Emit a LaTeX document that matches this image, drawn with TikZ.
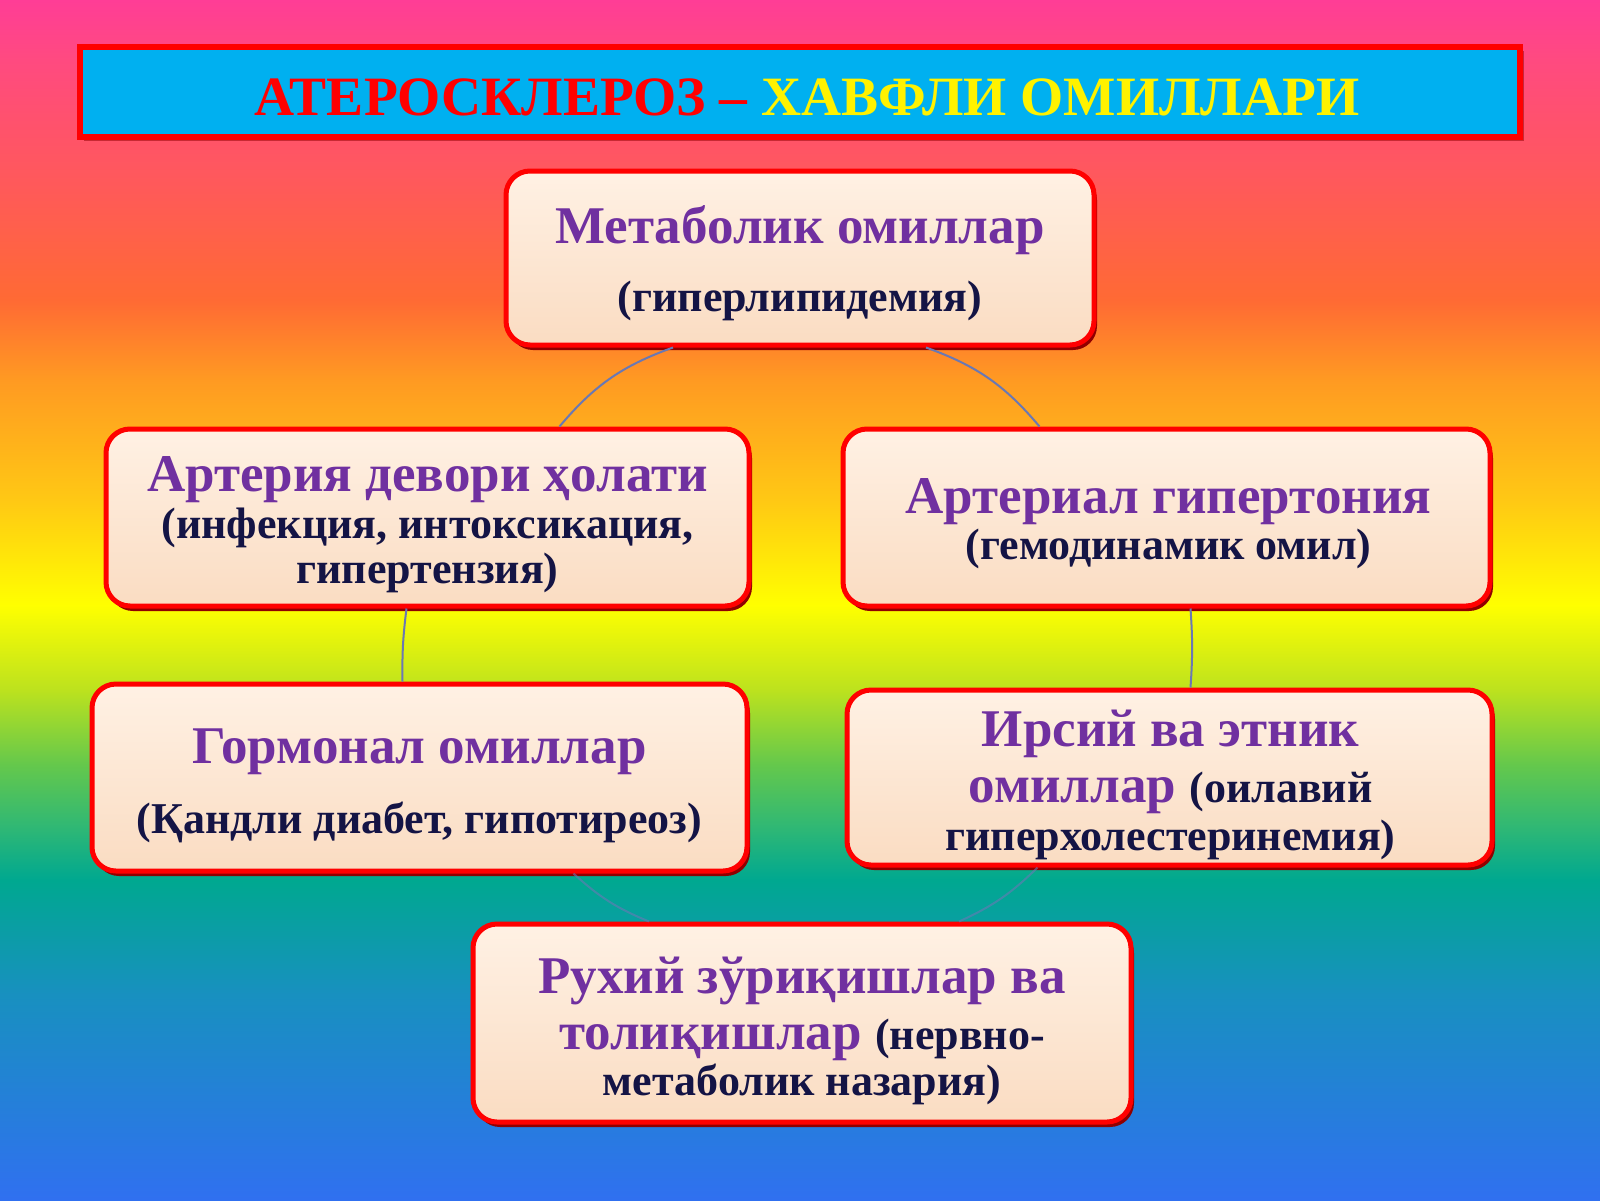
\documentclass[tikz,border=0pt]{standalone}
\usepackage{fontspec}
\setmainfont{Liberation Serif}
\usetikzlibrary{shadows,calc}
\definecolor{bgA}{HTML}{FF3D96}
\definecolor{bgB}{HTML}{FF4A80}
\definecolor{bgC}{HTML}{FF5A58}
\definecolor{bgD}{HTML}{FF6A34}
\definecolor{bgE}{HTML}{FF9A22}
\definecolor{bgF}{HTML}{FFC814}
\definecolor{bgG}{HTML}{FFFF00}
\definecolor{bgH}{HTML}{BCE21E}
\definecolor{bgI}{HTML}{64C84C}
\definecolor{bgJ}{HTML}{30B874}
\definecolor{bgK}{HTML}{00A890}
\definecolor{bgL}{HTML}{1890C0}
\definecolor{bgM}{HTML}{3070F0}
\definecolor{purp}{HTML}{7030A0}
\definecolor{navy}{HTML}{141445}
\definecolor{peachtop}{HTML}{FFF1E4}
\definecolor{peachbot}{HTML}{FADCC2}
\definecolor{shadowred}{HTML}{900000}
\definecolor{headblue}{HTML}{00B0F0}
\definecolor{linkc}{HTML}{6A78B4}
\pgfdeclareverticalshading{rainbowbg}{100bp}{color(0bp)=(bgM); color(25bp)=(bgM); color(33.54bp)=(bgL); color(38.33bp)=(bgK); color(40.58bp)=(bgJ); color(43.13bp)=(bgI); color(46.25bp)=(bgH); color(49.79bp)=(bgG); color(54.17bp)=(bgF); color(59.17bp)=(bgE); color(62.5bp)=(bgD); color(67.08bp)=(bgC); color(72.5bp)=(bgB); color(75bp)=(bgA); color(100bp)=(bgA)}
\newcommand\mybig{\fontsize{53}{60}\selectfont\bfseries\color{purp}}
\newcommand\mysub{\fontsize{44}{50}\selectfont\bfseries\color{navy}}
\begin{document}
\begin{tikzpicture}[x=1pt,y=-1pt,
  rbox/.style={draw=red, line width=5pt, rounded corners=24pt,
    top color=peachtop, bottom color=peachbot,
    drop shadow={shadow xshift=3pt, shadow yshift=-5pt, fill=shadowred, opacity=1},
    inner sep=0pt},
  txt/.style={anchor=base, inner sep=0pt},
  link/.style={draw=linkc, line width=2pt}]
\shade[shading=rainbowbg] (0,0) rectangle (1600,1200);
\useasboundingbox (0,0) rectangle (1600,1200);

% header
\node[draw=red, line width=6pt, fill=headblue, minimum width=1440pt, minimum height=90pt,
  drop shadow={shadow xshift=4pt, shadow yshift=-4pt, fill=shadowred, opacity=0.5}] (head) at (800,92) {};
\node[txt] (headtxt) at ($(head.center)+(7,23)$) {\fontsize{55.5}{60}\selectfont\bfseries
  \textcolor{red}{АТЕРОСКЛЕРОЗ –} \textcolor{yellow}{ХАВФЛИ ОМИЛЛАРИ}};

% boxes
\node[rbox, minimum width=588pt, minimum height=174pt] (met) at (800,258) {};
\node[rbox, minimum width=643pt, minimum height=177pt] (art) at (427.5,517.5) {};
\node[rbox, minimum width=647pt, minimum height=177pt] (hyp) at (1166.5,517.5) {};
\node[rbox, minimum width=655pt, minimum height=187pt] (horm) at (419.5,777.5) {};
\node[rbox, minimum width=645pt, minimum height=175pt] (her) at (1169.5,777.5) {};
\node[rbox, minimum width=658pt, minimum height=198pt] (psy) at (802,1023) {};

% connectors
\draw[link] ([xshift=-127pt]met.south) to[bend right=15] ([xshift=132pt]art.north);
\draw[link] ([xshift=126pt]met.south) to[bend left=15] ([xshift=-127pt]hyp.north);
\draw[link] ([xshift=-21pt]art.south) to[bend right=4] ([xshift=-17pt]horm.north);
\draw[link] ([xshift=24pt]hyp.south) to[bend left=4] ([xshift=21pt]her.north);
\draw[link, opacity=0.6] ([xshift=154pt]horm.south) to[bend right=10] ([xshift=-153pt]psy.north);
\draw[link, opacity=0.6] ([xshift=-132pt]her.south) to[bend left=10] ([xshift=157pt]psy.north);

% texts
\node[txt] (met1) at ($(met.center)+(0,-15)$) {\mybig Метаболик омиллар};
\node[txt] (met2) at ($(met.center)+(0,53)$) {\mysub (гиперлипидемия)};

\node[txt] (art1) at ($(art.center)+(0,-26.5)$) {\mybig Артерия девори ҳолати};
\node[txt] (art2) at ($(art.center)+(0,20.5)$) {\mysub (инфекция, интоксикация,};
\node[txt] (art3) at ($(art.center)+(0,65.5)$) {\mysub гипертензия)};

\node[txt] (hyp1) at ($(hyp.center)+(2,-4.5)$) {\mybig Артериал гипертония};
\node[txt] (hyp2) at ($(hyp.center)+(2,41.5)$) {\mysub (гемодинамик омил)};

\node[txt] (horm1) at ($(horm.center)+(0,-14.5)$) {\mybig Гормонал омиллар};
\node[txt] (horm2) at ($(horm.center)+(0,55.5)$) {\mysub (Қандли диабет, гипотиреоз)};

\node[txt] (her1) at ($(her.center)+(1,-31.5)$) {\mybig Ирсий ва этник};
\node[txt] (her2) at ($(her.center)+(1,24.5)$) {\mybig омиллар \mysub(оилавий};
\node[txt] (her3) at ($(her.center)+(1,72.5)$) {\mysub гиперхолестеринемия)};

\node[txt] (psy1) at ($(psy.center)+(0,-30)$) {\mybig Рухий зўриқишлар ва};
\node[txt] (psy2) at ($(psy.center)+(0,26)$) {\mybig толиқишлар \mysub(нервно-};
\node[txt] (psy3) at ($(psy.center)+(0,72)$) {\mysub метаболик назария)};
\end{tikzpicture}
\end{document}
